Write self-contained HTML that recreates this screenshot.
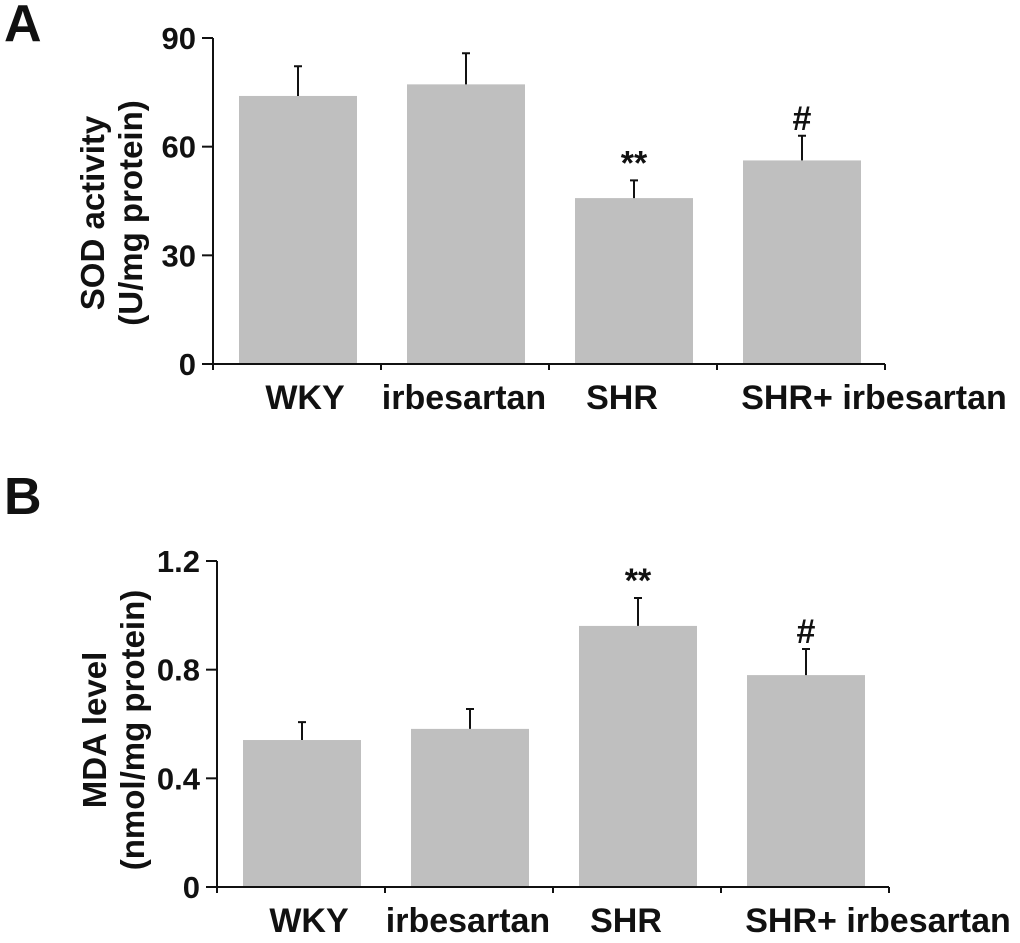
<!DOCTYPE html>
<html><head><meta charset="utf-8"><style>
body{margin:0;background:#fff}
svg text{font-family:"Liberation Sans",Arial,sans-serif;font-weight:bold;fill:#111}
</style></head><body>
<svg width="1020" height="938" viewBox="0 0 1020 938">
<g id="A"></g>
<g id="B"></g>
</svg>
<script>
const categories=["WKY","irbesartan","SHR","SHR+ irbesartan"];
const sodValues=[74.0,77.2,45.8,56.2];
const sodErrors=[8.2,8.6,4.9,6.8];
const sodMarks=["","","**","#"];
const sodTicks=[0,30,60,90];
const mdaValues=[0.541,0.582,0.961,0.78];
const mdaErrors=[0.066,0.073,0.103,0.096];
const mdaMarks=["","","**","#"];
const mdaTicks=["0","0.4","0.8","1.2"];
const NS="http://www.w3.org/2000/svg";
function mk(p,t,a,txt){const e=document.createElementNS(NS,t);for(const k in a)e.setAttribute(k,a[k]);if(txt!==undefined)e.textContent=txt;p.appendChild(e);return e;}
function panel(g,cfg){
  const yS=v=>cfg.y0-(v/cfg.max)*(cfg.y0-cfg.yTop);
  const step=168;
  const xL=cfg.ax;
  const lt=mk(g,'text',{x:cfg.lx,y:cfg.ly,'font-size':52},cfg.letter);
  
  
  const ya=mk(g,'line',{x1:xL,y1:cfg.yTop,x2:xL,y2:cfg.y0+1,stroke:'#111','stroke-width':2});
  
  
  const xa=mk(g,'line',{x1:xL-11,y1:cfg.y0,x2:xL+4*step,y2:cfg.y0,stroke:'#111','stroke-width':2});
  
  
  cfg.ticks.forEach(t=>{
    const y=yS(parseFloat(t));
    mk(g,'line',{x1:xL-11,y1:y,x2:xL,y2:y,stroke:'#111','stroke-width':2});
    const tl=mk(g,'text',{x:xL-17,y:y+11,'font-size':31,'text-anchor':'end'},String(t));
    
    
  });
  for(let i=0;i<=4;i++){mk(g,'line',{x1:xL+i*step,y1:cfg.y0,x2:xL+i*step,y2:cfg.y0+6,stroke:'#111','stroke-width':2});}
  cfg.vals.forEach((v,i)=>{
    const x=xL+26+i*step, w=118, top=yS(v), et=yS(v+cfg.errs[i]), cx=x+w/2;
    const b=mk(g,'rect',{x:x,y:top,width:w,height:cfg.y0-1-top,fill:'#bfbfbf'});
    
    
    const e=mk(g,'path',{d:`M${cx} ${top}V${et}M${cx-4} ${et}H${cx+4}`,stroke:'#111','stroke-width':2,fill:'none'});
    
    
    if(cfg.marks[i]){const m=mk(g,'text',{x:cx,y:et-6,'font-size':34,'text-anchor':'middle'},cfg.marks[i]);
      
      }
    const off=[7,-2,-12,72][i];
    const c=mk(g,'text',{x:cx+off,y:cfg.y0+45,'font-size':34,'text-anchor':'middle'},categories[i]);
    
    
  });
  const yt=mk(g,'text',{transform:`translate(${cfg.tx},${(cfg.yTop+cfg.y0)/2+cfg.tdy}) rotate(-90)`,'font-size':33,'text-anchor':'middle'});
  
  
  mk(yt,'tspan',{x:0,dy:0},cfg.t1);
  mk(yt,'tspan',{x:0,dy:38},cfg.t2);
}
panel(document.getElementById('A'),{letter:'A',lx:4,ly:41,ax:213,y0:364,yTop:38,max:90,ticks:sodTicks,vals:sodValues,errs:sodErrors,marks:sodMarks,tx:104,tdy:12,t1:'SOD activity',t2:'(U/mg protein)'});
panel(document.getElementById('B'),{letter:'B',lx:4,ly:514,ax:217,y0:887,yTop:561,max:1.2,ticks:mdaTicks,vals:mdaValues,errs:mdaErrors,marks:mdaMarks,tx:106,tdy:6,t1:'MDA level',t2:'(nmol/mg protein)'});
</script>
</body></html>
